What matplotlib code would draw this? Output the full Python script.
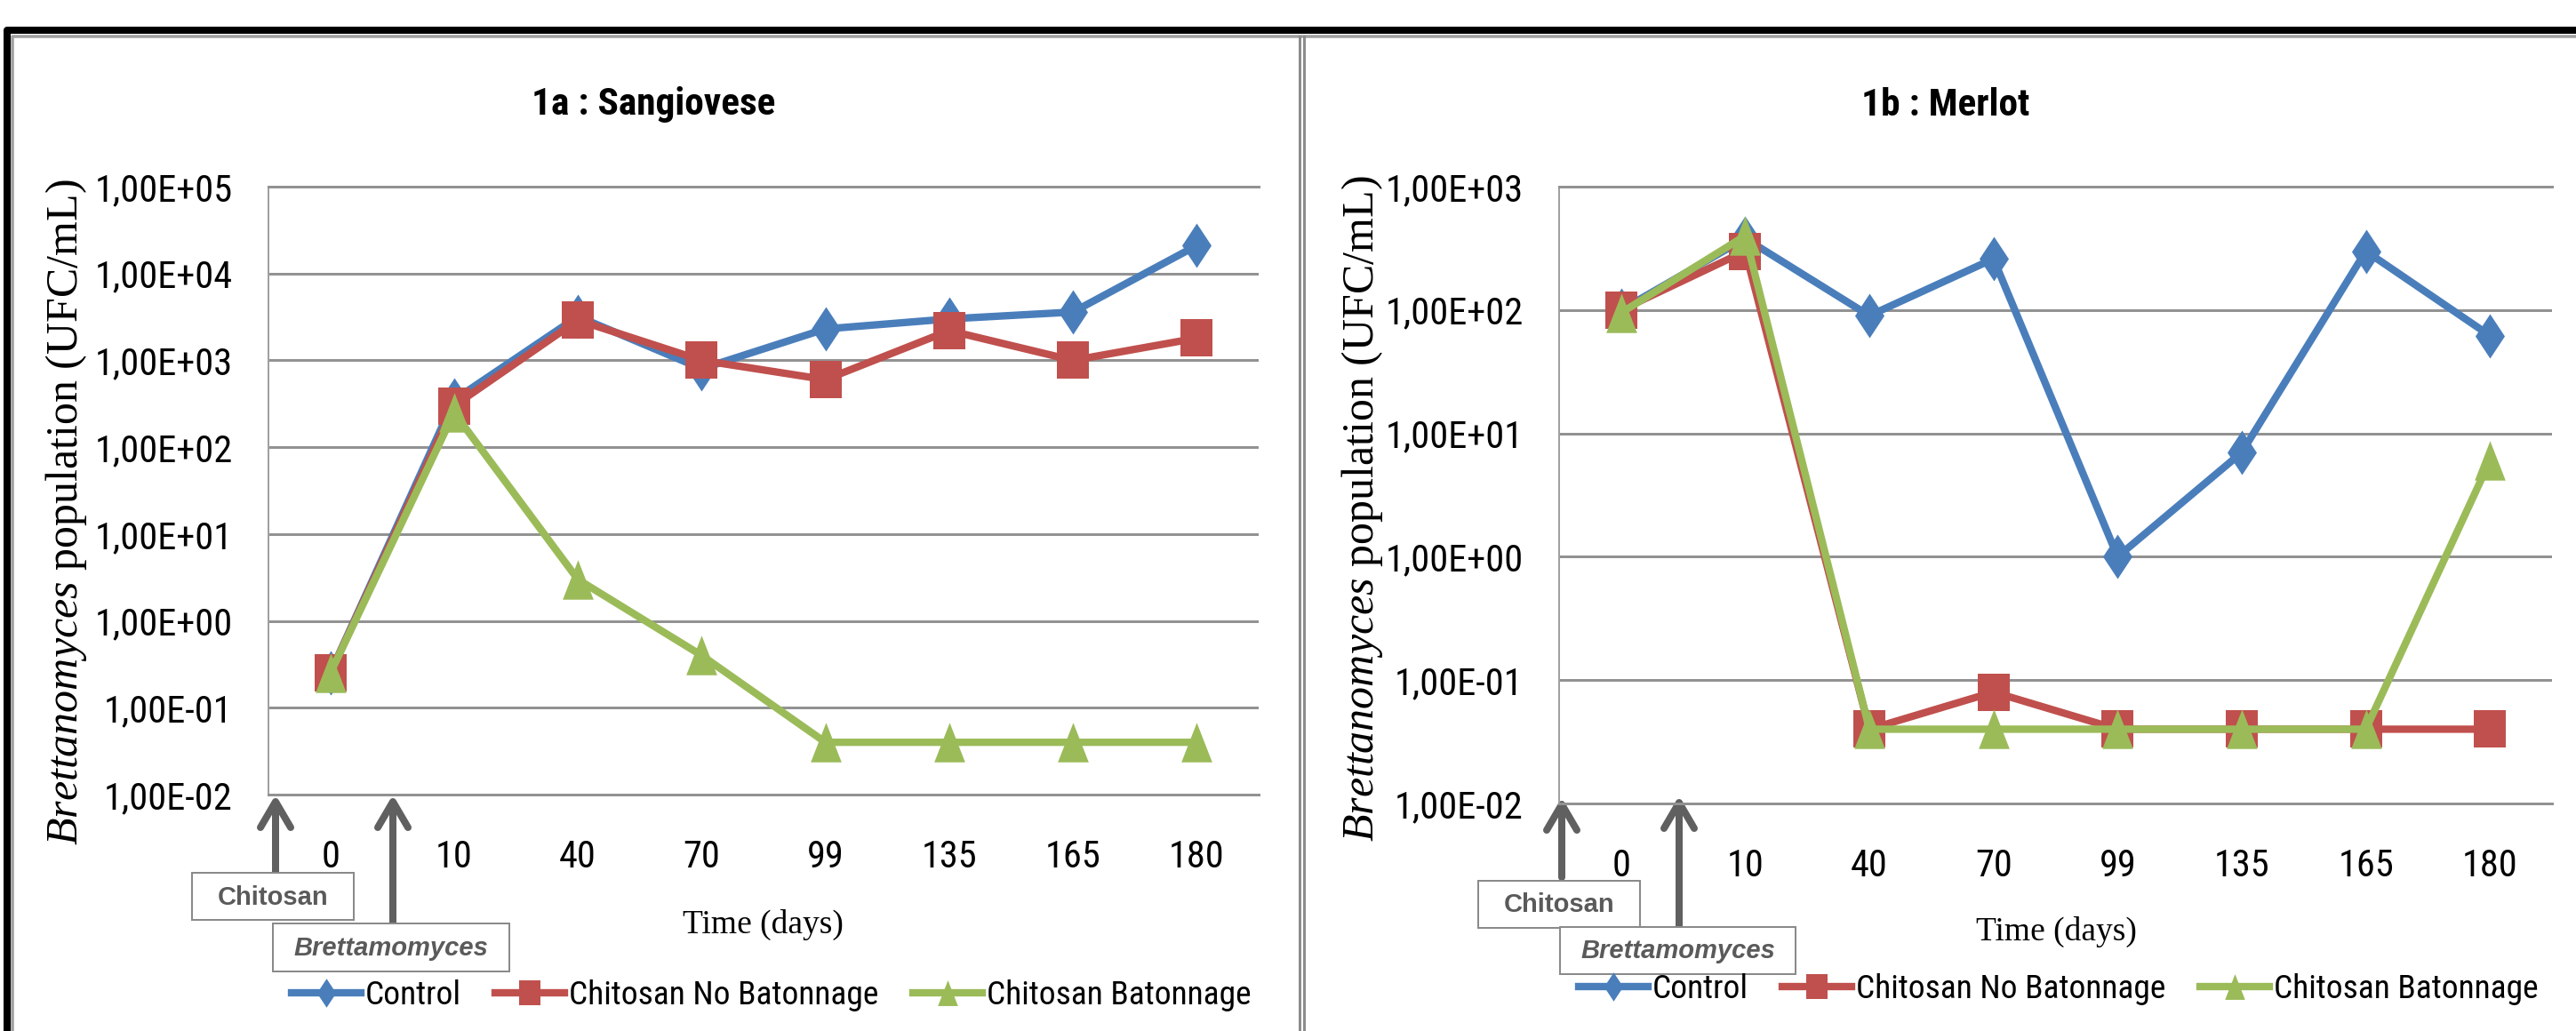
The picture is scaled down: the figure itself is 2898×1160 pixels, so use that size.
import matplotlib
matplotlib.use('Agg')
import matplotlib.pyplot as plt
from matplotlib.path import Path
from matplotlib.patches import Rectangle
from matplotlib.ticker import NullLocator
from matplotlib.textpath import TextPath
from matplotlib import font_manager as fm

# ---------------- data ----------------
days = ['0', '10', '40', '70', '99', '135', '165', '180']
series_names = ['Control', 'Chitosan No Batonnage', 'Chitosan Batonnage']

sang_control = [0.25, 350, 3200, 800, 2300, 3000, 3600, 21000]
sang_nobat = [0.25, 300, 2900, 1000, 600, 2200, 1000, 1800]
sang_bat = [0.25, 250, 3, 0.4, 0.04, 0.04, 0.04, 0.04]

merlot_control = [100, 380, 90, 260, 1, 7, 300, 62]
merlot_nobat = [100, 300, 0.04, 0.08, 0.04, 0.04, 0.04, 0.04]
merlot_bat = [95, 400, 0.04, 0.04, 0.04, 0.04, 0.04, 6]

sang_yticklabels = ['1,00E-02', '1,00E-01', '1,00E+00', '1,00E+01',
                    '1,00E+02', '1,00E+03', '1,00E+04', '1,00E+05']
merlot_yticklabels = ['1,00E-02', '1,00E-01', '1,00E+00', '1,00E+01',
                      '1,00E+02', '1,00E+03']
titles = ['1a : Sangiovese', '1b : Merlot']
xlabel = 'Time (days)'
annot_labels = ['Chitosan', 'Brettamomyces']

# ---------------- fonts ----------------
def pick(fams):
    for f in fams:
        try:
            fm.findfont(fm.FontProperties(family=f), fallback_to_default=False)
            return f
        except Exception:
            pass
    return 'DejaVu Sans'


def weight_num(w):
    if isinstance(w, (int, float)):
        return int(w)
    return {'normal': 400, 'regular': 400, 'book': 400, 'medium': 500,
            'semibold': 600, 'demibold': 600, 'bold': 700, 'heavy': 800,
            'black': 900, 'light': 300}.get(str(w).lower(), 400)


def find_condensed(bold):
    prefs = ['liberation sans narrow', 'roboto condensed', 'open sans condensed',
             'noto sans condensed', 'dejavu sans condensed', 'lato', 'inter']
    best = None
    best_rank = 999
    for f in fm.fontManager.ttflist:
        name = f.name.lower()
        fn = f.fname.lower()
        st = f.stretch
        is_cond = ('narrow' in name or 'condensed' in name or 'narrow' in fn
                   or 'condensed' in fn
                   or (isinstance(st, str) and 'condensed' in st)
                   or (isinstance(st, (int, float)) and st < 500))
        if not is_cond:
            continue
        if 'mono' in name or 'mono' in fn:
            continue
        if 'serif' in name and 'sans' not in name:
            continue
        if f.style != 'normal':
            continue
        if 'italic' in fn or 'oblique' in fn:
            continue
        w = weight_num(f.weight)
        if bold and w < 600:
            continue
        if not bold and (w < 350 or w > 550):
            continue
        if 'semi' in fn or 'extra' in fn or 'ultra' in fn or 'light' in fn:
            rank_pen = 50
        else:
            rank_pen = 0
        rank = 100
        for i, p in enumerate(prefs):
            if name.startswith(p.split()[0]) and ('narrow' in p or 'condensed' in p):
                if p in (name + ' condensed') or p in (name + ' narrow') or p in name:
                    rank = i
                    break
        rank += rank_pen
        if rank < best_rank:
            best_rank = rank
            best = f.fname
    return best


SANS = pick(['Liberation Sans', 'DejaVu Sans'])
SERIF = pick(['Liberation Serif', 'DejaVu Serif'])
c_reg = find_condensed(False)
c_bold = find_condensed(True)


def fprop(bold=False):
    path = c_bold if bold else c_reg
    if path:
        return fm.FontProperties(fname=path)
    return fm.FontProperties(family=SANS, weight='bold' if bold else 'normal')


def fit_size(fp, s, target_w, target_cap):
    """font size (pt) whose ink width matches target_w px, limited by cap height"""
    p = fp.copy()
    p.set_size(10)
    ext = TextPath((0, 0), s, prop=p).get_extents()
    w_px = ext.width * 100 / 72
    cap = TextPath((0, 0), 'E', prop=p).get_extents().height * 100 / 72
    size_w = 10 * target_w / w_px
    size_h = 10 * target_cap / cap
    return min(size_w, size_h * 1.12)


fp_tick = fprop(False)
tick_size = fit_size(fp_tick, '1,00E+05', 150, 29)
fp_tick.set_size(tick_size)
fp_leg = fprop(False)
fp_leg.set_size(fit_size(fp_leg, 'Chitosan No Batonnage', 345, 29))
fp_title = fprop(True)
fp_title.set_size(fit_size(fp_title, '1a : Sangiovese', 270, 32))

plt.rcParams['mathtext.fontset'] = 'custom'
plt.rcParams['mathtext.it'] = SERIF + ':italic'
plt.rcParams['mathtext.rm'] = SERIF

BLUE = '#4A7EBB'
RED = '#C0504D'
GREEN = '#9BBB59'
GRID = '#929292'

diamond = Path([(0, 0.5), (0.33, 0), (0, -0.5), (-0.33, 0), (0, 0.5)],
               [Path.MOVETO, Path.LINETO, Path.LINETO, Path.LINETO, Path.CLOSEPOLY])
square = Path([(-0.43, -0.5), (0.43, -0.5), (0.43, 0.5), (-0.43, 0.5), (-0.43, -0.5)],
              [Path.MOVETO, Path.LINETO, Path.LINETO, Path.LINETO, Path.CLOSEPOLY])
triangle = Path([(0, 0.5), (0.39, -0.5), (-0.39, -0.5), (0, 0.5)],
                [Path.MOVETO, Path.LINETO, Path.LINETO, Path.CLOSEPOLY])
styles = [(BLUE, diamond, 36), (RED, square, 30), (GREEN, triangle, 32)]

W, H = 2898, 1160
PT = 0.72  # points per pixel at dpi 100
fig = plt.figure(figsize=(W / 100, H / 100), dpi=100)

# background / frame axes in pixel coordinates
bg = fig.add_axes([0, 0, 1, 1])
bg.set_xlim(0, W)
bg.set_ylim(H, 0)
bg.axis('off')
bg.plot([8, 8, W], [H, 34, 34], color='black', lw=8 * PT,
        solid_joinstyle='round', solid_capstyle='butt')
bg.plot([13.5, 13.5, W], [H, 40.5, 40.5], color='#a0a0a0', lw=3.5 * PT)
bg.plot([1461.5, 1461.5], [41, H], color='#8c8c8c', lw=3 * PT)
bg.plot([1466.5, 1466.5], [41, H], color='#8c8c8c', lw=3 * PT)


def px_rect(l, t, r, b):
    return [l / W, 1 - b / H, (r - l) / W, (b - t) / H]


def arrow(x, y_tip, y_bot):
    kw = dict(color='#606060', lw=8 * PT, solid_capstyle='round',
              solid_joinstyle='round', zorder=3)
    bg.plot([x, x], [y_bot, y_tip + 2], **kw)
    bg.plot([x - 17, x, x + 17], [y_tip + 29, y_tip, y_tip + 29], **kw)


def box(l, t, r, b, text, italic=False):
    bg.add_patch(Rectangle((l, t), r - l, b - t, facecolor='white',
                           edgecolor='#8a8a8a', lw=2 * PT, zorder=4))
    bg.text((l + r) / 2, (t + b) / 2 + 1, text, ha='center', va='center',
            fontsize=21, fontweight='bold', color='#5a5a5a', family=SANS,
            style='italic' if italic else 'normal', zorder=5)


def make_panel(rect, data, yticklabels, ylo):
    ax = fig.add_axes(rect)
    ax.set_facecolor('none')
    x = list(range(len(days)))
    lines = []
    for vals, (c, m, ms) in zip(data, styles):
        ln, = ax.plot(x, vals, color=c, lw=6, marker=m, ms=ms, mfc=c, mec=c,
                      mew=0, clip_on=False, zorder=3)
        lines.append(ln)
    ax.set_yscale('log')
    yt = [ylo * 10.0 ** k for k in range(len(yticklabels))]
    ax.set_ylim(yt[0], yt[-1])
    ax.set_xlim(-0.5, len(days) - 0.5)
    ax.set_yticks(yt)
    ax.set_yticklabels(yticklabels)
    ax.yaxis.set_minor_locator(NullLocator())
    ax.set_xticks(x)
    ax.set_xticklabels(days)
    ax.tick_params(axis='both', length=0)
    ax.tick_params(axis='y', pad=29)
    ax.tick_params(axis='x', pad=36)
    for lab in ax.get_xticklabels() + ax.get_yticklabels():
        lab.set_fontproperties(fp_tick)
    ax.grid(axis='y', color=GRID, lw=3 * PT)
    ax.grid(axis='x', visible=False)
    ax.set_axisbelow(True)
    for s in ['top', 'bottom']:
        ax.spines[s].set_color(GRID)
        ax.spines[s].set_linewidth(3 * PT)
    ax.spines['right'].set_visible(False)
    ax.spines['left'].set_color('#a0a0a0')
    ax.spines['left'].set_linewidth(2 * PT)
    return ax, lines


leg_kw = dict(ncol=3, loc='center left', bbox_transform=fig.transFigure,
              frameon=False, prop=fp_leg, handlelength=2.08, handletextpad=0.12,
              columnspacing=1.04, borderpad=0, borderaxespad=0, markerscale=0.65)
ylab = r'$\mathit{Brettanomyces}$' + ' population (UFC/mL)'

# ---------------- panel 1a ----------------
ax1, l1 = make_panel(px_rect(302, 210, 1416, 894),
                     [sang_control, sang_nobat, sang_bat],
                     sang_yticklabels, 1e-2)
fig.text(735 / W, 1 - 118 / H, titles[0], ha='center', va='center',
         fontproperties=fp_title)
fig.text(75 / W, 1 - 576 / H, ylab, rotation=90, ha='center', va='center',
         fontsize=36, family=SERIF)
fig.text(858 / W, 1 - 1040 / H, xlabel, ha='center', va='center',
         fontsize=27, family=SERIF)
ax1.legend(l1, series_names, bbox_to_anchor=(328 / W, 1 - 1120 / H), **leg_kw)

arrow(310, 902, 981)
arrow(442, 902, 1039)
box(216, 982, 398, 1035, annot_labels[0])
box(307, 1039, 573, 1093, annot_labels[1], italic=True)

# ---------------- panel 1b ----------------
ax2, l2 = make_panel(px_rect(1754, 210, 2871, 904),
                     [merlot_control, merlot_nobat, merlot_bat],
                     merlot_yticklabels, 1e-2)
fig.text(2189 / W, 1 - 118 / H, titles[1], ha='center', va='center',
         fontproperties=fp_title)
fig.text(1533 / W, 1 - 572 / H, ylab, rotation=90, ha='center', va='center',
         fontsize=36, family=SERIF)
fig.text(2313 / W, 1 - 1048 / H, xlabel, ha='center', va='center',
         fontsize=27, family=SERIF)
ax2.legend(l2, series_names, bbox_to_anchor=(1776 / W, 1 - 1113 / H), **leg_kw)

arrow(1757, 905, 987)
arrow(1889, 903, 1043)
box(1663, 991, 1845, 1044, annot_labels[0])
box(1755, 1043, 2020, 1096, annot_labels[1], italic=True)

fig.savefig('out.png', dpi=100)
